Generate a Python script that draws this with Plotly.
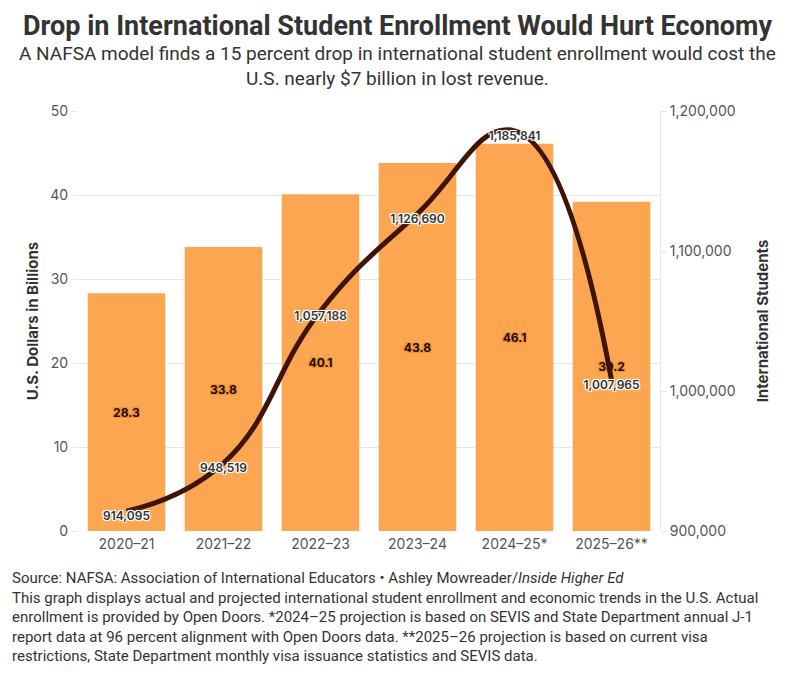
import plotly.graph_objects as go

years = ["2020–21", "2021–22", "2022–23", "2023–24", "2024–25*", "2025–26**"]
dollars_bn = [28.3, 33.8, 40.1, 43.8, 46.1, 39.2]
students = [914095, 948519, 1057188, 1126690, 1185841, 1007965]

bar_color = "#FCA652"
line_color = "#3E1404"
halo_white = "1px 1px 0 #fff, -1px -1px 0 #fff, 1px -1px 0 #fff, -1px 1px 0 #fff, 0 0 3px #fff"
halo_orange = "1px 1px 0 #fb8c2a, -1px -1px 0 #fb8c2a, 1px -1px 0 #fb8c2a, -1px 1px 0 #fb8c2a"

fig = go.Figure()

fig.add_trace(go.Bar(
    x=years, y=dollars_bn, marker_color=bar_color, marker_line_width=0,
    text=[f"{v:.1f}" for v in dollars_bn], textposition="inside",
    insidetextanchor="middle",
    textfont=dict(family="Inter", size=12, color="#111", weight="bold", shadow=halo_orange),
    showlegend=False))

fig.add_trace(go.Scatter(
    x=years, y=students, yaxis="y2", mode="lines+text",
    line=dict(color=line_color, width=5, shape="spline", smoothing=1.3),
    text=[f"{v:,}" for v in students], textposition="bottom center",
    textfont=dict(family="Inter", size=12, color="#333", weight=600, shadow=halo_white),
    showlegend=False, cliponaxis=False))

fig.update_layout(
    width=795, height=674,
    margin=dict(l=70, r=143, t=103, b=151),
    plot_bgcolor="white", paper_bgcolor="white",
    bargap=0.2,
    font=dict(family="Inter", color="#555"),
    xaxis=dict(tickfont=dict(size=14, color="#555"), showgrid=False,
               ticks="outside", ticklen=0, showline=False),
    yaxis=dict(range=[0, 50], dtick=10, gridcolor="#e8e8e8", zeroline=False,
               tickfont=dict(size=14, color="#555"), ticks="outside", ticklen=6,
               tickcolor="#e8e8e8",
               title=dict(text="U.S. Dollars in Billions", standoff=8,
                          font=dict(size=15, color="#333", weight="bold"))),
    yaxis2=dict(range=[900000, 1200000], dtick=100000, overlaying="y", side="right",
                showgrid=False, zeroline=False, tickformat=",",
                tickfont=dict(size=14, color="#555"), ticks="outside", ticklen=6,
                tickcolor="#e8e8e8", showline=True, linecolor="#e8e8e8",
                title=dict(text="International Students", standoff=22,
                           font=dict(size=15, color="#333", weight="bold"))),
)

cx = (397.5 - 78) / 582  # centre of the page, in plot-area units

fig.add_annotation(
    text="<b>Drop in International Student Enrollment Would Hurt Economy</b>",
    xref="paper", yref="paper", x=cx, y=1, xanchor="center", yanchor="bottom",
    yshift=67, showarrow=False, font=dict(family="Roboto", size=27, color="#333"))
fig.add_annotation(
    text="A NAFSA model finds a 15 percent drop in international student enrollment would cost the<br>U.S. nearly $7 billion in lost revenue.",
    xref="paper", yref="paper", x=cx, y=1, xanchor="center", yanchor="bottom",
    yshift=19, showarrow=False, align="center",
    font=dict(family="Roboto", size=19, color="#333"))
fig.add_annotation(
    text="Source: NAFSA: Association of International Educators • Ashley Mowreader/<i>Inside Higher Ed</i><br>"
         "This graph displays actual and projected international student enrollment and economic trends in the U.S. Actual<br>"
         "enrollment is provided by Open Doors. *2024–25 projection is based on SEVIS and State Department annual J-1<br>"
         "report data at 96 percent alignment with Open Doors data. **2025–26 projection is based on current visa<br>"
         "restrictions, State Department monthly visa issuance statistics and SEVIS data.",
    xref="paper", yref="paper", x=-68 / 582, y=0, xanchor="left", yanchor="top",
    yshift=-36, showarrow=False, align="left",
    font=dict(family="Roboto", size=15, color="#333"))

fig.write_html("out.html")
